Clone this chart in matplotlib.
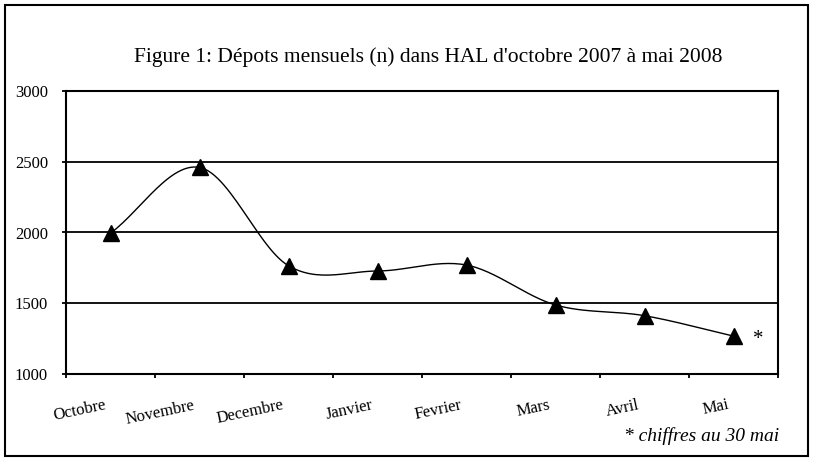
import numpy as np
import matplotlib.pyplot as plt
from matplotlib.patches import Rectangle

# Données
mois = ["Octobre", "Novembre", "Decembre", "Janvier", "Fevrier", "Mars", "Avril", "Mai"]
depots = [1995, 2460, 1765, 1728, 1770, 1488, 1412, 1268]
y_ticks = [1000, 1500, 2000, 2500, 3000]

titre = "Figure 1: Dépots mensuels (n) dans HAL d'octobre 2007 à mai 2008"
note = "* chiffres au 30 mai"

serif = ["Liberation Serif", "DejaVu Serif"]


def lissage(x, y, n=30):
    # courbe lissée type Excel (Catmull-Rom)
    x = np.asarray(x, float)
    y = np.asarray(y, float)
    px = np.concatenate([[2 * x[0] - x[1]], x, [2 * x[-1] - x[-2]]])
    py = np.concatenate([[2 * y[0] - y[1]], y, [2 * y[-1] - y[-2]]])
    xs, ys = [], []
    t = np.linspace(0, 1, n)
    for i in range(1, len(px) - 2):
        for p, out in ((px, xs), (py, ys)):
            p0, p1, p2, p3 = p[i - 1], p[i], p[i + 1], p[i + 2]
            out.extend(0.5 * ((2 * p1) + (-p0 + p2) * t
                              + (2 * p0 - 5 * p1 + 4 * p2 - p3) * t ** 2
                              + (-p0 + 3 * p1 - 3 * p2 + p3) * t ** 3))
    return np.array(xs), np.array(ys)


fig = plt.figure(figsize=(8.13, 4.65), dpi=100)
ax = fig.add_axes([66 / 813, 1 - 374 / 465, 712 / 813, 283 / 465])

x = np.arange(len(mois))
xs, ys = lissage(x, depots)
ax.plot(xs, ys, color="black", linewidth=1.0)
ax.plot(x, depots, linestyle="none", marker="^", color="black", markersize=11)

ax.set_xlim(-0.5, len(mois) - 0.5)
ax.set_ylim(1000, 3000)
ax.set_yticks(y_ticks)
ax.set_yticklabels([str(v) for v in y_ticks], fontfamily=serif, fontsize=12)
for v in y_ticks[1:]:
    ax.axhline(v, color="black", linewidth=1.3, zorder=0)

ax.set_xticks(np.arange(len(mois) + 1) - 0.5)
ax.set_xticklabels([])
trans = ax.get_xaxis_transform()
for i, m in enumerate(mois):
    ax.text(i - 5 / 89, -31 / 283, m, rotation=12, rotation_mode="anchor",
            ha="right", va="center", transform=trans,
            fontfamily=serif, fontsize=12)

ax.tick_params(axis="both", direction="out", length=3, width=1.3, color="black")
ax.tick_params(axis="y", pad=10)
for sp in ax.spines.values():
    sp.set_linewidth(1.5)

ax.text(len(mois) - 1 + 0.22, depots[-1] - 25, "*", fontsize=15,
        fontfamily=serif, ha="left", va="center")

fig.text(428 / 813, 1 - 57 / 465, titre, ha="center", va="center",
         fontfamily=serif, fontsize=15.5)
fig.text(779 / 813, 1 - 436 / 465, note, ha="right", va="center",
         fontfamily=serif, fontstyle="italic", fontsize=14)

fig.patches.append(Rectangle((5 / 813, 1 - 456 / 465), 803 / 813, 451 / 465,
                             transform=fig.transFigure, fill=False,
                             edgecolor="black", linewidth=1.5))

fig.savefig("out.png", dpi=100)
